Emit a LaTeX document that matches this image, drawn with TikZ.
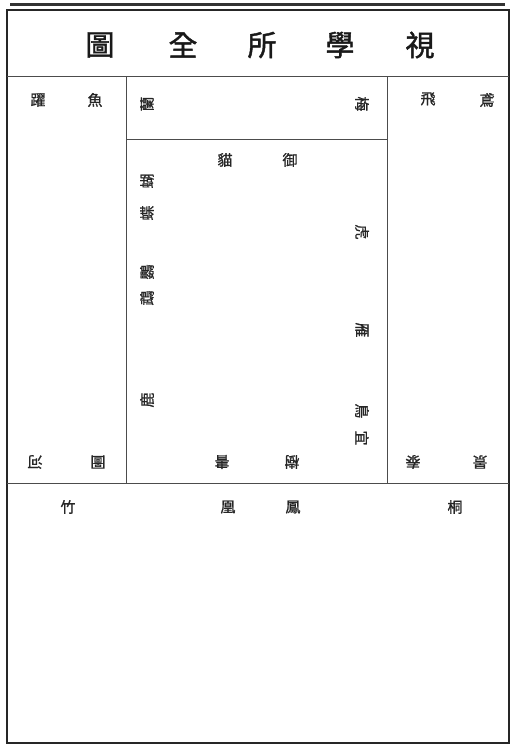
\documentclass[tikz,border=0pt]{standalone}
\usepackage{fontspec}
\newfontfamily\cjk[FakeBold=1]{Noto Sans CJK TC}
\newfontfamily\cjkt[FakeBold=1.5]{Noto Sans CJK TC}
\begin{document}
\begin{tikzpicture}[x=1pt,y=-1pt,
  lbl/.style={font=\cjk\fontsize{15}{15}\selectfont, inner sep=0pt, text=black!85},
  ttl/.style={font=\cjkt\fontsize{29}{29}\selectfont, inner sep=0pt, text=black!90},
  thin/.style={line width=1pt, draw=black!70},
  thick/.style={line width=2pt, draw=black!85}]
\useasboundingbox (0,0) rectangle (513,749);
% frame
\draw[line width=3pt, draw=black!80] (10,5) -- (505,5);
\draw[thick] (7,10) rectangle (509,743);
\draw[thin] (7,77) -- (509,77);
\draw[thin] (7,483) -- (509,483);
\draw[thin] (126,77) -- (126,483);
\draw[thin] (387,77) -- (387,483);
\draw[thin] (126,139) -- (387,139);
% title
\node[ttl] (t1) at (100,45) {圖};
\node[ttl] (t2) at (183,45) {全};
\node[ttl] (t3) at (262,45) {所};
\node[ttl] (t4) at (340,45) {學};
\node[ttl] (t5) at (420,45) {視};
% left column
\node[lbl] (a1) at (38,100) {躍};
\node[lbl] (a2) at (95,100) {魚};
\node[lbl, rotate=180] (a3) at (35,462) {河};
\node[lbl, rotate=180] (a4) at (98,462) {圖};
% right column
\node[lbl] (b1) at (428,99) {飛};
\node[lbl] (b2) at (487,100) {鳶};
\node[lbl, rotate=180] (b3) at (413,462) {泰};
\node[lbl, rotate=180] (b4) at (480,462) {景};
% center top band
\node[lbl, rotate=90] (c1) at (147,104) {蘭};
\node[lbl, rotate=-90] (c2) at (362,104) {梅};
% center inner
\node[lbl] (d1) at (225,160) {貓};
\node[lbl] (d2) at (290,160) {御};
\node[lbl, rotate=90] (d3) at (147,181) {蝴};
\node[lbl, rotate=90] (d4) at (147,213) {蝶};
\node[lbl, rotate=90] (d5) at (147,272) {鸚};
\node[lbl, rotate=90] (d6) at (147,298) {鵡};
\node[lbl, rotate=90] (d7) at (147,400) {鹿};
\node[lbl, rotate=-90] (d8) at (362,232) {虎};
\node[lbl, rotate=-90] (d9) at (362,330) {雁};
\node[lbl, rotate=-90] (d10) at (362,411) {鳥};
\node[lbl, rotate=-90] (d11) at (362,438) {宜};
\node[lbl, rotate=180] (d12) at (222,462) {書};
\node[lbl, rotate=180] (d13) at (292,462) {樹};
% bottom
\node[lbl] (e1) at (68,507) {竹};
\node[lbl] (e2) at (228,507) {凰};
\node[lbl] (e3) at (293,507) {鳳};
\node[lbl] (e4) at (455,507) {桐};
\end{tikzpicture}
\end{document}
